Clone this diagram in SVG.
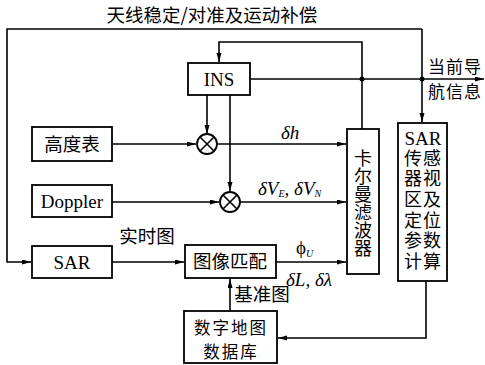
<svg xmlns="http://www.w3.org/2000/svg" width="485" height="365" viewBox="0 0 485 365">
<style>
.box{fill:#fff;stroke:#000;stroke-width:1.8}
.ln{fill:none;stroke:#000;stroke-width:1.6}
.t{font-family:"Liberation Serif","Noto Sans CJK SC",serif;font-size:19px;fill:#000;text-anchor:middle}
.c{font-family:"Noto Sans CJK SC","Liberation Serif",sans-serif;font-size:18.5px;fill:#000;text-anchor:middle}
.c2{font-family:"Noto Sans CJK SC",sans-serif;font-size:16.5px;fill:#000;text-anchor:middle}
.v{font-family:"Noto Sans CJK SC",sans-serif;font-size:18px;fill:#000;writing-mode:vertical-rl;text-anchor:start}
.m{font-family:"Liberation Serif","DejaVu Serif",serif;font-size:19px;font-style:italic;fill:#000}
.sub{font-size:10px}
</style>
<defs>
<marker id="a" markerUnits="userSpaceOnUse" markerWidth="10" markerHeight="6" refX="9" refY="2.5" orient="auto">
<path d="M0,0 L9,2.5 L0,5 z" fill="#000"/>
</marker>
</defs>
<g id="connectors">
<path class="ln" d="M422,29 H7 V262 H31" marker-end="url(#a)"/>
<path class="ln" d="M422,29 V122" marker-end="url(#a)"/>
<path class="ln" d="M362,129 V42 H219 V62" marker-end="url(#a)"/>
<path class="ln" d="M250,79 H484" marker-end="url(#a)"/>
<path class="ln" d="M207,95 V134" marker-end="url(#a)"/>
<path class="ln" d="M230,95 V191" marker-end="url(#a)"/>
<path class="ln" d="M112,144 H196" marker-end="url(#a)"/>
<path class="ln" d="M217,144 H346" marker-end="url(#a)"/>
<path class="ln" d="M112,202 H219" marker-end="url(#a)"/>
<path class="ln" d="M240,202 H346" marker-end="url(#a)"/>
<path class="ln" d="M112,262 H184" marker-end="url(#a)"/>
<path class="ln" d="M276,262 H346" marker-end="url(#a)"/>
<path class="ln" d="M230,311 V279" marker-end="url(#a)"/>
<path class="ln" d="M426,281 V338 H278" marker-end="url(#a)"/>
<circle cx="362" cy="79" r="2.5" fill="#000"/>
<circle cx="422" cy="79" r="2.5" fill="#000"/>
</g>
<text class="c" x="212" y="22">天线稳定/对准及运动补偿</text>
<text class="c2" style="font-size:17px;letter-spacing:1px"><tspan x="455" y="73">当前导</tspan><tspan x="455" y="98">航信息</tspan></text>
<text class="m" x="281" y="139">δh</text>
<text class="m" x="258" y="195">δV<tspan class="sub" dy="2">E</tspan><tspan dy="-2">, δV</tspan><tspan class="sub" dy="2">N</tspan></text>
<text class="m" x="296" y="254" style="font-style:normal">ϕ<tspan class="sub" dy="3" style="font-style:italic">U</tspan></text>
<text class="m" x="286" y="286">δL, δλ</text>
<text class="c" x="147" y="243">实时图</text>
<text class="c" x="262" y="301">基准图</text>
<g id="INS"><rect class="box" x="188" y="63" width="62" height="32"/><text class="t" x="219" y="86">INS</text></g>
<g id="altimeter"><rect class="box" x="32" y="127" width="80" height="34"/><text class="c" x="72" y="151">高度表</text></g>
<g id="doppler"><rect class="box" x="32" y="185" width="80" height="32"/><text class="t" x="72" y="208">Doppler</text></g>
<g id="sar"><rect class="box" x="32" y="246" width="80" height="32"/><text class="t" x="72" y="269">SAR</text></g>
<g id="mult1"><circle class="box" cx="207" cy="144" r="10"/><path class="ln" d="M200,137 L214,151 M214,137 L200,151"/></g>
<g id="mult2"><circle class="box" cx="230" cy="202" r="10"/><path class="ln" d="M223,195 L237,209 M237,195 L223,209"/></g>
<g id="match"><rect class="box" x="185" y="245" width="91" height="33"/><text class="c" x="230" y="268">图像匹配</text></g>
<g id="database"><rect class="box" x="184" y="311" width="93" height="52"/><text class="c2" style="letter-spacing:2px"><tspan x="231" y="334">数字地图</tspan><tspan x="231" y="358">数据库</tspan></text></g>
<g id="kalman"><rect class="box" x="347" y="129" width="32" height="145"/>
<text class="v" x="363" y="149">卡尔曼滤波器</text></g>
<g id="sarcalc"><rect class="box" x="398" y="123" width="49" height="158"/>
<text class="t" x="423" y="145">SAR</text>
<text class="v" x="413" y="149" style="letter-spacing:2.6px">传器区定参计</text>
<text class="v" x="432" y="149" style="letter-spacing:2.6px">感视及位数算</text></g>
</svg>
